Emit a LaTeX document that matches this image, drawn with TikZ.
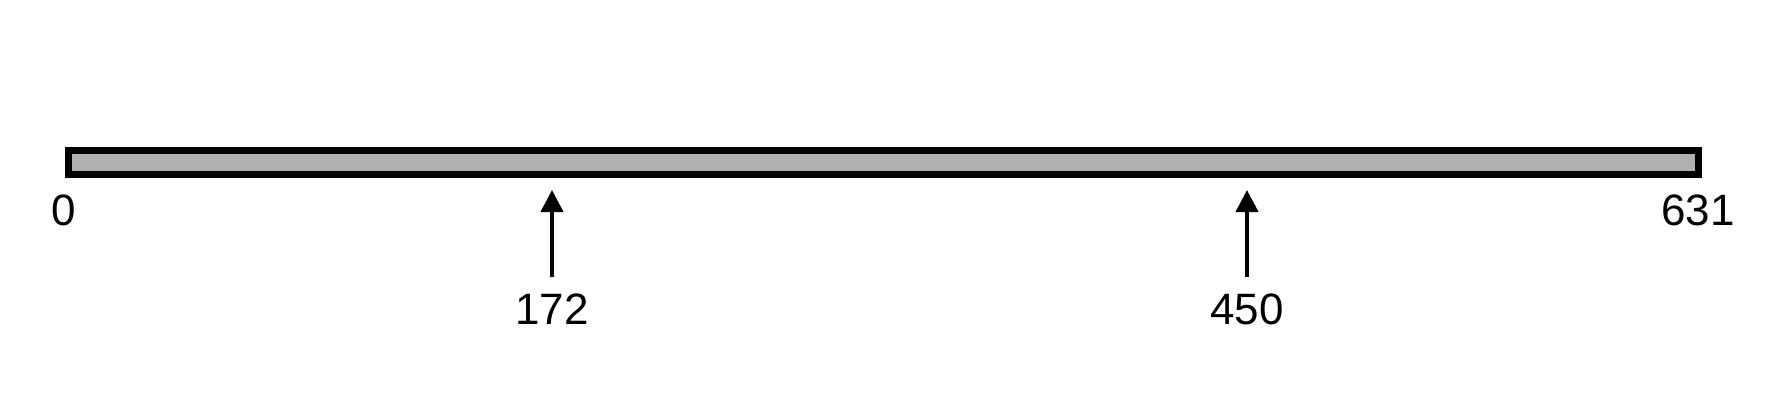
\documentclass[tikz,border=0pt]{standalone}
\usepackage{fontspec}
\setmainfont{Liberation Sans}
\usepackage{xcolor}
\usetikzlibrary{arrows.meta}
\definecolor{bargray}{HTML}{B0B0B0}
\tikzset{
    every picture/.style={line cap=butt,line join=miter},
    barbox/.style={draw=black,fill=bargray,line width=0.75mm,
      minimum width=163mm,minimum height=2.4mm,inner sep=0pt,outer sep=0pt},
    ticklabel/.style={font=\fontsize{12.5}{14}\selectfont,inner sep=1pt},
    markarrow/.style={-{Triangle[length=2.2mm,width=2.2mm]},draw=black,
      line width=0.42mm,shorten <=1.2mm}
}
\begin{document}
\begin{tikzpicture}[x=0.1mm,y=-0.1mm]
  \useasboundingbox (0,0) rectangle (1781,417);
  % the bar
  \node[barbox] (bar) at (883.5,162.5) {};
  \node[ticklabel] (l0) at (64,210) {0};
  \node[ticklabel] (l631) at (1698,210) {631};

  % marks below the bar
  \coordinate (t172) at (552,190);
  \coordinate (t450) at (1247,190);
  \node[ticklabel] (l172) at (552,309) {172};
  \node[ticklabel] (l450) at (1247,309) {450};
  \draw[markarrow] (l172.north) -- (t172);
  \draw[markarrow] (l450.north) -- (t450);
\end{tikzpicture}
\end{document}
